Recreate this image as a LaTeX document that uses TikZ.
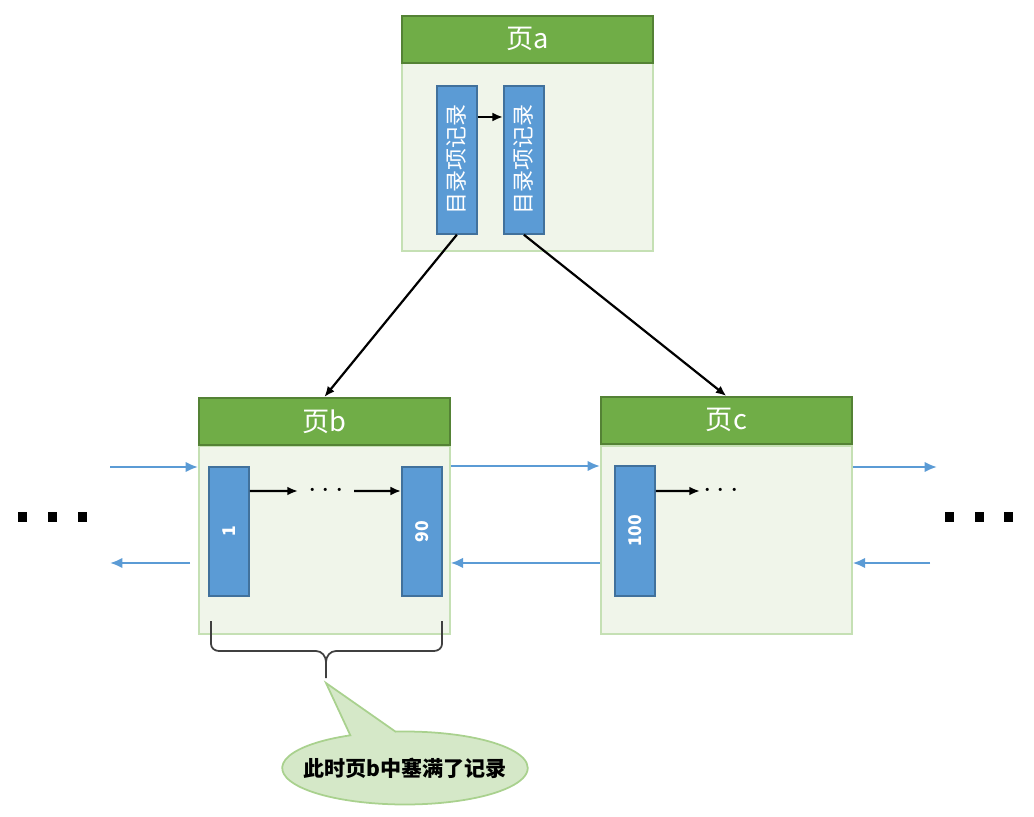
\documentclass[tikz,border=0pt]{standalone}
\usepackage{fontspec}
\setmainfont{Noto Sans CJK SC}
\usetikzlibrary{arrows.meta,shapes.callouts}
\definecolor{headgreen}{HTML}{70AD47}
\definecolor{headline}{HTML}{548235}
\definecolor{bodyfill}{HTML}{F0F5EA}
\definecolor{bodyline}{HTML}{C5E0B4}
\definecolor{recblue}{HTML}{5B9BD5}
\definecolor{recline}{HTML}{41719C}
\definecolor{notefill}{HTML}{D5E8C8}
\definecolor{noteline}{HTML}{A9D18E}
\tikzset{
  pagehead/.style={draw=headline, fill=headgreen, line width=1pt, inner sep=0pt, anchor=north west,
    minimum width=5.02cm, minimum height=0.94cm, text=white, font=\fontsize{15.5}{15.5}\selectfont},
  pagebody/.style={draw=bodyline, fill=bodyfill, line width=1pt, inner sep=0pt, anchor=north west,
    minimum width=5.02cm, minimum height=3.76cm},
  recbox/.style={draw=recline, fill=recblue, line width=1pt, inner sep=0pt, anchor=north west,
    minimum width=0.8cm},
  rectext/.style={rotate=90, text=white, inner sep=0pt},
  dotstext/.style={font=\fontsize{16}{16}\selectfont, inner ysep=0pt},
  link/.style={-{Latex[length=6pt,width=5pt]}, line width=1.25pt},
  sibling/.style={-{Latex[length=7pt,width=6pt]}, line width=1.25pt, draw=recblue},
}
\begin{document}
\begin{tikzpicture}[x=0.02cm, y=-0.02cm]
    \useasboundingbox (0,0) rectangle (1034,817);
    % page a
    \node[pagebody] (ba) at (401,62) {};
    \node[pagehead] (ha) at (401,15) {页a};
    \node[recbox, minimum height=2.96cm] (ra1) at (436,85) {};
    \node[recbox, minimum height=2.96cm] (ra2) at (503,85) {};
    \node[rectext, font=\fontsize{12.5}{12.5}\selectfont] at (ra1) {目录项记录};
    \node[rectext, font=\fontsize{12.5}{12.5}\selectfont] at (ra2) {目录项记录};
    \draw[link] ([yshift=-0.64cm]ra1.north east) -- ([yshift=-0.64cm]ra2.north west);
    % page b
    \node[pagebody] (bb) at (198,445) {};
    \node[pagehead] (hb) at (198,397) {页b};
    \node[recbox, minimum height=2.58cm] (rb1) at (208,466) {};
    \node[recbox, minimum height=2.58cm] (rb2) at (401,466) {};
    \node[rectext, font=\fontsize{10}{10}\bfseries] at (rb1) {1};
    \node[rectext, font=\fontsize{10}{10}\bfseries] at (rb2) {90};
    \node[dotstext, inner xsep=0.2cm] (dotsb) at (326,491) {$\cdots$};
    \draw[link] ([yshift=-0.5cm]rb1.north east) -- (dotsb.west);
    \draw[link] (dotsb.east) -- ([yshift=-0.5cm]rb2.north west);
    % page c
    \node[pagebody] (bc) at (600,445) {};
    \node[pagehead] (hc) at (600,396) {页c};
    \node[recbox, minimum height=2.6cm] (rc1) at (614,465) {};
    \node[rectext, font=\fontsize{10}{10}\bfseries] at (rc1) {100};
    \node[dotstext, inner xsep=0.06cm] (dotsc) at (721,491) {$\cdots$};
    \draw[link] ([yshift=-0.52cm]rc1.north east) -- (dotsc.west);
    % links between pages
    \draw[link] (ra1.south) -- (hb.north);
    \draw[link] (ra2.south) -- (hc.north);
    \coordinate (lin) at (110,467);
    \coordinate (lout) at (110,563);
    \coordinate (rout) at (937,467);
    \coordinate (rin) at (930,563);
    \draw[sibling] (lin) -- (lin -| bb.west);
    \draw[sibling] ([xshift=-0.16cm]lout -| bb.west) -- (lout);
    \draw[sibling] ([yshift=-0.42cm]bb.north east) -- ([yshift=-0.42cm]bc.north west);
    \draw[sibling] ([yshift=-2.36cm]bc.north west) -- ([yshift=-2.36cm]bb.north east);
    \draw[sibling] (rout -| bc.east) -- (rout);
    \draw[sibling] (rin) -- (rin -| bc.east);
    \foreach \x in {18,48,78,945,975,1004}
        \fill (\x,512) rectangle ++(9,10);
    % brace and note
    \draw[line width=1pt, black!75] (211,621) -- (211,644) to[out=-90,in=180] (219,651) -- (316,651)
        to[out=0,in=90] (326,662) -- (326,678);
    \draw[line width=1pt, black!75] (442,621) -- (442,644) to[out=-90,in=0] (434,651) -- (336,651)
        to[out=180,in=90] (326,662);
    \coordinate (tip) at (326,683);
    \node[ellipse callout, callout absolute pointer={(tip)}, callout pointer arc=22,
        draw=noteline, fill=notefill, line width=1pt, minimum width=4.8cm, minimum height=1.46cm,
        inner xsep=-0.3cm, inner ysep=0pt, font=\fontsize{12}{12}\bfseries] (note) at (405,768) {此时页b中塞满了记录};
\end{tikzpicture}
\end{document}
